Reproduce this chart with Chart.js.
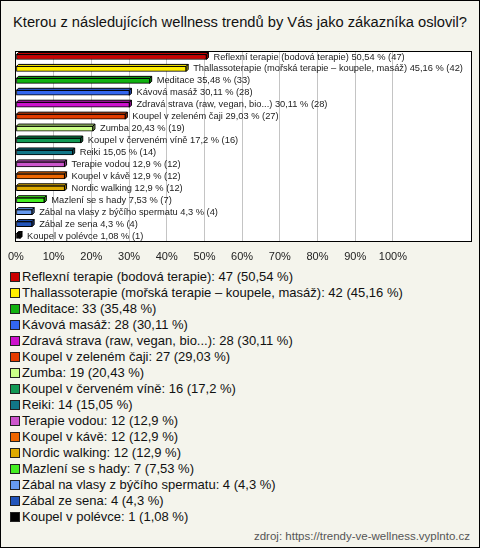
<!DOCTYPE html>
<html>
<head>
<meta charset="utf-8">
<script src="https://cdn.jsdelivr.net/npm/chart.js@4/dist/chart.umd.min.js"></script>
<style>
  html, body { margin: 0; padding: 0; }
  body { width: 480px; height: 548px; overflow: hidden; font-family: "Liberation Sans", Arial, sans-serif; }
  #frame { position: relative; width: 480px; height: 548px; box-sizing: border-box; border: 1px solid #000; background: #f4f4ec; }
  #title { position: absolute; left: 0; top: 13px; width: 478px; text-align: center; font-size: 14.7px; color: #111; white-space: nowrap; }
  #chartBox { position: absolute; left: -1px; top: 49px; width: 480px; height: 218px; }
  #legend { position: absolute; left: 9px; top: 268px; font-size: 13px; color: #111; }
  .li { height: 16px; line-height: 16px; white-space: nowrap; display: flex; align-items: center; }
  .sw { width: 8px; height: 8px; border: 1px solid #222; margin-right: 2px; flex: none; }
  #source { position: absolute; right: 9px; top: 529px; font-size: 11.5px; color: #555; white-space: nowrap; }
</style>
</head>
<body>
<div id="frame">
  <div id="title">Kterou z následujících wellness trendů by Vás jako zákazníka oslovil?</div>
  <div id="chartBox"><canvas id="c" width="480" height="218"></canvas></div>
  <div id="legend"></div>
  <div id="source">zdroj: https://trendy-ve-wellness.vyplnto.cz</div>
</div>
<script>
const categories = [
  "Reflexní terapie (bodová terapie)",
  "Thallassoterapie (mořská terapie – koupele, masáž)",
  "Meditace",
  "Kávová masáž",
  "Zdravá strava (raw, vegan, bio...)",
  "Koupel v zeleném čaji",
  "Zumba",
  "Koupel v červeném víně",
  "Reiki",
  "Terapie vodou",
  "Koupel v kávě",
  "Nordic walking",
  "Mazlení se s hady",
  "Zábal na vlasy z býčího spermatu",
  "Zábal ze sena",
  "Koupel v polévce"
];
const counts = [47, 42, 33, 28, 28, 27, 19, 16, 14, 12, 12, 12, 7, 4, 4, 1];
const percents = [50.54, 45.16, 35.48, 30.11, 30.11, 29.03, 20.43, 17.2, 15.05, 12.9, 12.9, 12.9, 7.53, 4.3, 4.3, 1.08];
const percentLabels = ["50,54", "45,16", "35,48", "30,11", "30,11", "29,03", "20,43", "17,2", "15,05", "12,9", "12,9", "12,9", "7,53", "4,3", "4,3", "1,08"];
const colors = ["#cc0000", "#ffee00", "#11b211", "#3366ee", "#cc11cc", "#e43c00", "#ccff88", "#119955", "#117788", "#cc55cc", "#ee6600", "#ddaa00", "#44ee22", "#6699ee", "#2255bb", "#000000"];
const tickValues = [0, 10, 20, 30, 40, 50, 60, 70, 80, 90, 100];

// Legend (HTML)
const legend = document.getElementById('legend');
categories.forEach((c, i) => {
  const d = document.createElement('div');
  d.className = 'li';
  d.innerHTML = '<span class="sw" style="background:' + colors[i] + '"></span><span>' + c + ': ' + counts[i] + ' (' + percentLabels[i] + ' %)</span>';
  legend.appendChild(d);
});

function shade(hex, f) {
  const n = parseInt(hex.slice(1), 16);
  let r = (n >> 16) & 255, g = (n >> 8) & 255, b = n & 255;
  r = Math.round(r * f); g = Math.round(g * f); b = Math.round(b * f);
  return 'rgb(' + Math.min(255, r) + ',' + Math.min(255, g) + ',' + Math.min(255, b) + ')';
}

const boxPlugin = {
  id: 'box',
  beforeDraw(chart) {
    const a = chart.chartArea, ctx = chart.ctx;
    ctx.save();
    ctx.fillStyle = '#ffffff';
    ctx.fillRect(a.left, a.top, a.right - a.left, a.bottom - a.top);
    ctx.restore();
  },
  afterDraw(chart) {
    const a = chart.chartArea, ctx = chart.ctx;
    ctx.save();
    ctx.strokeStyle = '#000';
    ctx.lineWidth = 1;
    ctx.strokeRect(Math.round(a.left) - 0.5, Math.round(a.top) + 0.5, Math.round(a.right - a.left), Math.round(a.bottom - a.top) - 1);
    ctx.restore();
  }
};

const depthPlugin = {
  id: 'depth',
  afterDatasetsDraw(chart) {
    const ctx = chart.ctx;
    const meta = chart.getDatasetMeta(0);
    const d = 2;
    ctx.save();
    ctx.lineWidth = 1;
    ctx.strokeStyle = '#000';
    meta.data.forEach((bar, i) => {
      const x0 = bar.base, x1 = bar.x;
      const yT = bar.y - bar.height / 2, yB = bar.y + bar.height / 2;
      ctx.beginPath();
      ctx.moveTo(x0, yT); ctx.lineTo(x0 + d, yT - d); ctx.lineTo(x1 + d, yT - d); ctx.lineTo(x1, yT); ctx.closePath();
      ctx.fillStyle = colors[i];
      ctx.fill(); ctx.stroke();
      ctx.beginPath();
      ctx.moveTo(x1, yT); ctx.lineTo(x1 + d, yT - d); ctx.lineTo(x1 + d, yB - d); ctx.lineTo(x1, yB); ctx.closePath();
      ctx.fillStyle = shade(colors[i], 0.7);
      ctx.fill(); ctx.stroke();
      ctx.fillStyle = '#222';
      ctx.font = '9.3px "Liberation Sans", Arial, sans-serif';
      ctx.textBaseline = 'middle';
      ctx.textAlign = 'left';
      ctx.fillText(categories[i] + ' ' + percentLabels[i] + ' % (' + counts[i] + ')', x1 + 7, bar.y);
    });
    ctx.restore();
  }
};

new Chart(document.getElementById('c'), {
  type: 'bar',
  data: {
    labels: categories,
    datasets: [{
      data: percents,
      backgroundColor: colors,
      borderColor: '#000',
      borderWidth: 1,
      borderSkipped: false,
      barThickness: 5
    }]
  },
  options: {
    indexAxis: 'y',
    responsive: false,
    animation: false,
    layout: { padding: { left: 12, right: 8, top: 1, bottom: 0 } },
    plugins: { legend: { display: false }, tooltip: { enabled: false } },
    scales: {
      y: { display: false, offset: true },
      x: {
        min: 0, max: 121,
        afterBuildTicks(scale) { scale.ticks = tickValues.map(v => ({ value: v })); },
        afterFit(scale) { scale.height = 26; },
        border: { display: false },
        grid: { color: '#c4c4c4', drawTicks: false, lineWidth: 1 },
        ticks: {
          padding: 8,
          color: '#222',
          font: { family: '"Liberation Sans", Arial, sans-serif', size: 11 },
          callback: v => v + '%'
        }
      }
    }
  },
  plugins: [boxPlugin, depthPlugin]
});
</script>
</body>
</html>
